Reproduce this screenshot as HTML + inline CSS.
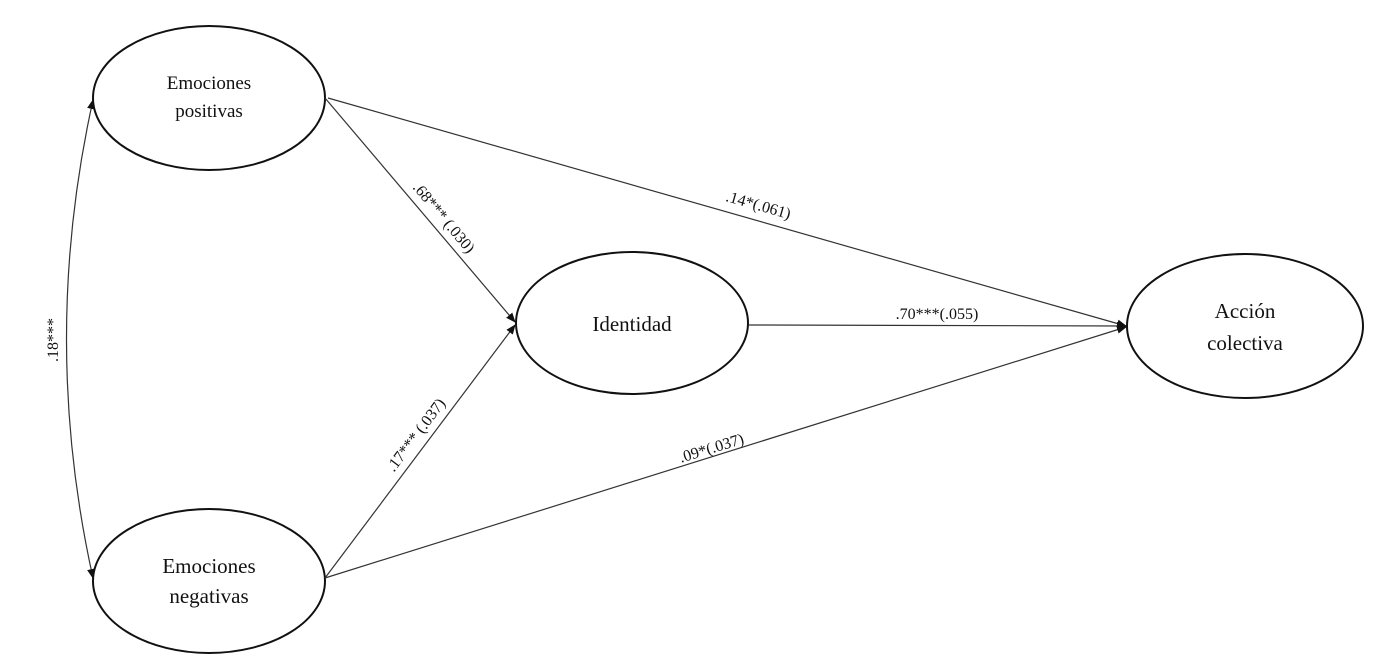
<!DOCTYPE html>
<html><head><meta charset="utf-8"><style>
html,body{margin:0;padding:0;background:#fff;width:1381px;height:660px;overflow:hidden}
svg{display:block}
text{font-family:"Liberation Serif",serif;fill:#111}
</style></head><body>
<svg width="1381" height="660" viewBox="0 0 1381 660">
<defs>
<marker id="a" markerWidth="10" markerHeight="10" refX="9" refY="5" orient="auto" markerUnits="userSpaceOnUse">
<path d="M0,1 L10,5 L0,9 Z" fill="#111"/></marker>
<marker id="b" markerWidth="10" markerHeight="10" refX="1" refY="5" orient="auto" markerUnits="userSpaceOnUse">
<path d="M10,1 L0,5 L10,9 Z" fill="#111"/></marker>
</defs>
<g fill="none" stroke="#111" stroke-width="2">
<ellipse cx="209" cy="98" rx="116" ry="72"/>
<ellipse cx="209" cy="581" rx="116" ry="72"/>
<ellipse cx="632" cy="323" rx="116" ry="71"/>
<ellipse cx="1245" cy="326" rx="118" ry="72"/>
</g>
<g fill="none" stroke="#333" stroke-width="1.2">
<path d="M93,100 Q40,339 93,578" marker-start="url(#b)" marker-end="url(#a)"/>
<line x1="325" y1="98" x2="515" y2="322" marker-end="url(#a)"/>
<line x1="325" y1="578" x2="515" y2="325" marker-end="url(#a)"/>
<line x1="328" y1="98" x2="1126" y2="326" marker-end="url(#a)"/>
<line x1="749" y1="325" x2="1126" y2="326" marker-end="url(#a)"/>
<line x1="325" y1="578" x2="1126" y2="327" marker-end="url(#a)"/>
</g>
<g font-size="19" text-anchor="middle">
<text x="209" y="89">Emociones</text>
<text x="209" y="117">positivas</text>
</g>
<g font-size="21" text-anchor="middle">
<text x="209" y="573">Emociones</text>
<text x="209" y="603">negativas</text>
<text x="632" y="331">Identidad</text>
<text x="1245" y="318">Acción</text>
<text x="1245" y="350">colectiva</text>
</g>
<g font-size="16" text-anchor="middle">
<text transform="translate(58,340) rotate(-90)">.18***</text>
<text transform="translate(440,221) rotate(50)">.68*** (.030)</text>
<text transform="translate(420,438) rotate(-53)">.17*** (.037)</text>
<text transform="translate(757,210) rotate(16)">.14*(.061)</text>
<text x="937" y="319">.70***(.055)</text>
<text transform="translate(713,453) rotate(-17)">.09*(.037)</text>
</g>
</svg>
</body></html>
